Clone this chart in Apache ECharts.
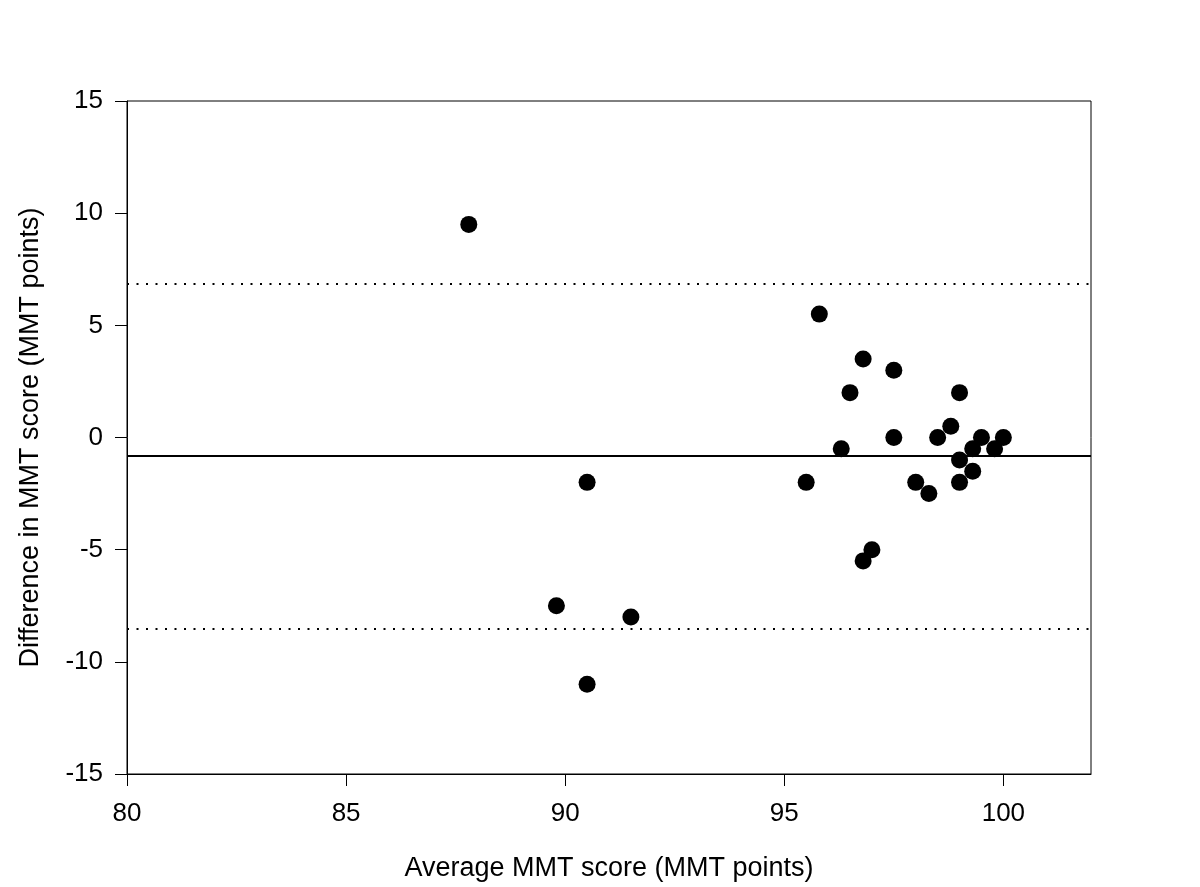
<!DOCTYPE html>
<html>
<head>
<meta charset="utf-8">
<script src="https://cdn.jsdelivr.net/npm/echarts@6/dist/echarts.min.js"></script>
<style>
html,body{margin:0;padding:0;background:#fff;}
#c{width:1200px;height:887px;}
</style>
</head>
<body>
<div id="c"></div>
<script>
// Average MMT score (x) and difference (y)
var avgScore = [95.8, 96.8, 97.5, 96.5, 99.0, 98.8, 97.5, 98.5, 99.5, 100.0, 96.3, 99.3, 99.8, 99.0, 99.3, 95.5, 98.0, 99.0, 98.3, 97.0, 96.8, 87.8, 90.5, 89.8, 91.5, 90.5];
var diffScore = [5.5, 3.5, 3.0, 2.0, 2.0, 0.5, 0.0, 0.0, 0.0, 0.0, -0.5, -0.5, -0.5, -1.0, -1.5, -2.0, -2.0, -2.0, -2.5, -5.0, -5.5, 9.5, -2.0, -7.5, -8.0, -11.0];
var meanDiff = -0.83;
var upperLimit = 6.85;
var lowerLimit = -8.52;
var xTicks = [80, 85, 90, 95, 100];
var yTicks = [-15, -10, -5, 0, 5, 10, 15];

var points = avgScore.map(function (x, i) { return [x, diffScore[i]]; });
var font = '"Liberation Sans", Arial, sans-serif';

var chart = echarts.init(document.getElementById('c'), null, {renderer: 'canvas'});
chart.setOption({
  animation: false,
  backgroundColor: '#fff',
  grid: {left: 127, right: 109, top: 101, bottom: 112, show: true, borderColor: '#000', borderWidth: 1, backgroundColor: 'transparent'},
  xAxis: {
    type: 'value', min: 80, max: 102, interval: 5,
    name: 'Average MMT score (MMT points)', nameLocation: 'middle', nameGap: 81,
    nameTextStyle: {fontFamily: font, fontSize: 27, color: '#000'},
    axisLine: {show: true, onZero: false, lineStyle: {color: '#000', width: 1}},
    axisTick: {show: true, length: 12, customValues: xTicks, lineStyle: {color: '#000'}},
    axisLabel: {customValues: xTicks, margin: 27, fontFamily: font, fontSize: 26, color: '#000'},
    splitLine: {show: false}
  },
  yAxis: {
    type: 'value', min: -15, max: 15, interval: 5,
    name: 'Difference in MMT score (MMT points)', nameLocation: 'middle', nameGap: 83,
    nameTextStyle: {fontFamily: font, fontSize: 27, color: '#000'},
    axisLine: {show: true, onZero: false, lineStyle: {color: '#000', width: 1}},
    axisTick: {show: true, length: 12, customValues: yTicks, lineStyle: {color: '#000'}},
    axisLabel: {customValues: yTicks, margin: 24, fontFamily: font, fontSize: 26, color: '#000'},
    splitLine: {show: false}
  },
  series: [{
    type: 'scatter',
    data: points,
    symbol: 'circle',
    symbolSize: 17,
    itemStyle: {color: '#000', opacity: 1},
    markLine: {
      silent: true,
      symbol: 'none',
      label: {show: false},
      data: [
        {yAxis: meanDiff, lineStyle: {color: '#000', width: 2, type: 'solid'}},
        {yAxis: upperLimit, lineStyle: {color: '#000', width: 2, type: [2, 7.5]}},
        {yAxis: lowerLimit, lineStyle: {color: '#000', width: 2, type: [2, 7.5]}}
      ]
    }
  }]
});
</script>
</body>
</html>
